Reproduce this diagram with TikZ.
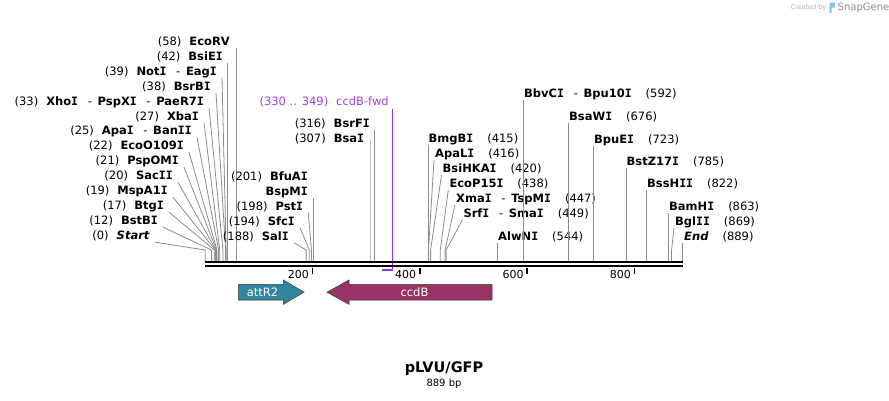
\documentclass[tikz,border=0pt]{standalone}
\usepackage{fontspec}
\setmainfont{DejaVu Sans}
\newfontfamily\monofam{DejaVu Sans Mono}
\usetikzlibrary{calc}
\definecolor{cutgray}{HTML}{8C8C8C}
\definecolor{cutlight}{HTML}{C0C0C0}
\definecolor{primer}{HTML}{9B30F0}
\definecolor{primertxt}{HTML}{A040E8}
\definecolor{attcol}{HTML}{31869E}
\definecolor{ccdcol}{HTML}{993366}
\definecolor{logoblue}{HTML}{7CC4E8}
\newcommand\mksite[2]{\coordinate (#1) at ({205.2+0.5367*#2},250);\coordinate (#1b) at ({205.2+0.5367*#2},260.8);}
\newcommand\nm[1]{\textbf{#1}}
\newcommand\vI{{\monofam\bfseries I}}
\newcommand\gapL{\hspace{8pt}}
\newcommand\gapR{\hspace{14pt}}
\newcommand\dsh{\hspace{9.7pt}-\hspace{5.7pt}}
\begin{document}
\begin{tikzpicture}[x=1pt,y=-1pt,
  lbl/.style={font=\fontsize{11.5}{13}\selectfont, inner sep=0pt, text height=8.5pt, text depth=2.5pt},
  lblL/.style={lbl, anchor=east},
  lblR/.style={lbl, anchor=west},
  cut/.style={draw=cutgray, line width=0.8pt},
  cutl/.style={draw=cutlight, line width=0.9pt},
  barline/.style={draw=black, line width=2.6pt},
  tick/.style={draw=black, line width=1.6pt},
  ticklbl/.style={font=\fontsize{11}{12}\selectfont, inner sep=0pt, anchor=east},
  feat/.style={draw=black!75, line width=0.6pt},
  ftxt/.style={font=\fontsize{11.5}{13}\selectfont, text=white, inner sep=0pt},
]
\useasboundingbox (0,0) rectangle (889,400);

% sites
\mksite{sStart}{0}\mksite{sBstBI}{12}\mksite{sBtgI}{17}\mksite{sMspA}{19}\mksite{sSacII}{20}
\mksite{sPspOMI}{21}\mksite{sEcoO}{22}\mksite{sApaI}{25}\mksite{sXbaI}{27}\mksite{sXhoI}{33}
\mksite{sBsrBI}{38}\mksite{sNotI}{39}\mksite{sBsiEI}{42}\mksite{sEcoRV}{58}
\mksite{sSalI}{188}\mksite{sSfcI}{194}\mksite{sPstI}{198}\mksite{sBfuAI}{201}
\mksite{sBsaI}{307}\mksite{sBsrFI}{316}
\mksite{sBmgBI}{415}\mksite{sApaLI}{416}\mksite{sBsiHKAI}{420}\mksite{sEcoP}{438}
\mksite{sXmaI}{447}\mksite{sSrfI}{449}\mksite{sAlwNI}{544}\mksite{sBbvCI}{592}
\mksite{sBsaWI}{676}\mksite{sBpuEI}{723}\mksite{sBstZ}{785}\mksite{sBssHII}{822}
\mksite{sBamHI}{863}\mksite{sBglII}{869}\mksite{sEnd}{889}

% left group
\node[lblL] (lEcoRV) at (230,42) {(58)\gapL\nm{EcoRV}};
\node[lblL] (lBsiEI) at (223,57) {(42)\gapL\nm{BsiE\vI}};
\node[lblL] (lNotI) at (217,72) {(39)\gapL\nm{Not\vI}\dsh\nm{Eag\vI}};
\node[lblL] (lBsrBI) at (211,87) {(38)\gapL\nm{BsrB\vI}};
\node[lblL] (lXhoI) at (204,102) {(33)\gapL\nm{Xho\vI}\dsh\nm{PspX\vI}\dsh\nm{PaeR7\vI}};
\node[lblL] (lXbaI) at (199,117) {(27)\gapL\nm{Xba\vI}};
\node[lblL] (lApaI) at (192,131.5) {(25)\gapL\nm{Apa\vI}\dsh\nm{Ban\vI\vI}};
\node[lblL] (lEcoO) at (184,146.5) {(22)\gapL\nm{EcoO109\vI}};
\node[lblL] (lPspOMI) at (179,161.5) {(21)\gapL\nm{PspOM\vI}};
\node[lblL] (lSacII) at (173,176.5) {(20)\gapL\nm{Sac\vI\vI}};
\node[lblL] (lMspA) at (168,191.5) {(19)\gapL\nm{MspA1\vI}};
\node[lblL] (lBtgI) at (164,206.5) {(17)\gapL\nm{Btg\vI}};
\node[lblL] (lBstBI) at (158,221.5) {(12)\gapL\nm{BstB\vI}};
\node[lblL] (lStart) at (150,236.5) {(0)\gapL\textbf{\itshape Start}};

\draw[cut] (sEcoRV |- lEcoRV.south) -- (sEcoRVb);
\draw[cut] (sBsiEI |- lBsiEI.south) -- (sBsiEIb);
\foreach \l/\s in {lNotI/sNotI, lBsrBI/sBsrBI, lXhoI/sXhoI, lXbaI/sXbaI, lApaI/sApaI,
  lEcoO/sEcoO, lPspOMI/sPspOMI, lSacII/sSacII, lMspA/sMspA, lBtgI/sBtgI, lBstBI/sBstBI, lStart/sStart}
  \draw[cut] ([shift={(5,0)}]\l.south east) -- (\s) -- (\s b);

% middle group
\node[lblL] (lBsrFI) at (370,124) {(316)\gapL\nm{BsrF\vI}};
\node[lblL] (lBsaI) at (364.3,139) {(307)\gapL\nm{Bsa\vI}};
\node[lblL] (lBfuAI) at (308,177) {(201)\gapL\nm{BfuA\vI}};
\node[lblL] (lBspMI) at (308,192) {\nm{BspM\vI}};
\node[lblL] (lPstI) at (303.3,207) {(198)\gapL\nm{Pst\vI}};
\node[lblL] (lSfcI) at (295,222) {(194)\gapL\nm{Sfc\vI}};
\node[lblL] (lSalI) at (289,237) {(188)\gapL\nm{Sal\vI}};

\draw[cut] (sBsrFI |- lBsrFI.south) -- (sBsrFIb);
\draw[cutl] (sBsaI |- lBsaI.east) -- (sBsaIb);
\draw[cut] (sBfuAI |- lBspMI.south) -- (sBfuAIb);
\foreach \l/\s in {lPstI/sPstI, lSfcI/sSfcI, lSalI/sSalI}
  \draw[cut] ([shift={(5,0)}]\l.south east) -- (\s) -- (\s b);

% primer
\node[lblL, text=primertxt] (lPrimer) at (389,102) {(330 .. 349)\gapL ccdB-fwd};
\coordinate (pA) at ({205.2+0.5367*330},270);
\coordinate (pB) at ({205.2+0.5367*349},270);
\draw[draw=primer, line width=1.3pt] ([yshift=-1pt]pB |- lPrimer.south) -- (pB) -- (pA);

% right group
\node[lblR] (lBbvCI) at (524,94) {\nm{BbvC\vI}\dsh\nm{Bpu10\vI}\gapR(592)};
\node[lblR] (lBsaWI) at (569,117) {\nm{BsaW\vI}\gapR(676)};
\node[lblR] (lBpuEI) at (594,140) {\nm{BpuE\vI}\gapR(723)};
\node[lblR] (lBstZ) at (626.5,162) {\nm{BstZ17\vI}\gapR(785)};
\node[lblR] (lBssHII) at (647,184.5) {\nm{BssH\vI\vI}\gapR(822)};
\node[lblR] (lBamHI) at (669,207) {\nm{BamH\vI}\gapR(863)};
\node[lblR] (lBglII) at (675,222) {\nm{Bgl\vI\vI}\gapR(869)};
\node[lblR] (lEnd) at (684,237) {\textbf{\itshape End}\gapR(889)};
\node[lblR] (lBmgBI) at (428.5,139.5) {\nm{BmgB\vI}\gapR(415)};
\node[lblR] (lApaLI) at (435,154.5) {\nm{ApaL\vI}\gapR(416)};
\node[lblR] (lBsiHKAI) at (442.5,169.3) {\nm{BsiHKA\vI}\gapR(420)};
\node[lblR] (lEcoP) at (449.3,184) {\nm{EcoP15\vI}\gapR(438)};
\node[lblR] (lXmaI) at (456,199) {\nm{Xma\vI}\dsh\nm{TspM\vI}\gapR(447)};
\node[lblR] (lSrfI) at (463.3,214.3) {\nm{Srf\vI}\dsh\nm{Sma\vI}\gapR(449)};
\node[lblR] (lAlwNI) at (498,237) {\nm{AlwN\vI}\gapR(544)};

\foreach \l/\s in {lBbvCI/sBbvCI, lBsaWI/sBsaWI, lBpuEI/sBpuEI, lBstZ/sBstZ, lBssHII/sBssHII,
  lBamHI/sBamHI, lEnd/sEnd, lAlwNI/sAlwNI, lBmgBI/sBmgBI}
  \draw[cut] (\s |- \l.south) -- (\s b);
\foreach \l/\s in {lApaLI/sApaLI, lBsiHKAI/sBsiHKAI, lEcoP/sEcoP, lXmaI/sXmaI, lSrfI/sSrfI, lBglII/sBglII}
  \draw[cut] ([shift={(-1,0)}]\l.south west) -- (\s) -- (\s b);

% backbone
\draw[barline] (205,262) -- (683.3,262);
\draw[barline] (205,266) -- (683.3,266);
\foreach \t in {200,400,600,800} {
  \coordinate (tk\t) at ({205.2+0.5367*\t},267.5);
  \draw[tick] (tk\t) -- ++(0,6);
  \node[ticklbl] at ([shift={(-3.5,6.5)}]tk\t) {\t};
}

% features
\draw[feat, fill=attcol] (238.3,284.3) -- (283.3,284.3) -- (283.3,280) -- (304,292.2)
  -- (283.3,304.3) -- (283.3,300) -- (238.3,300) -- cycle;
\node[ftxt] (fatt) at (262.5,292.2) {attR2};
\draw[feat, fill=ccdcol] (492,284.3) -- (349,284.3) -- (349,280) -- (327,292.2)
  -- (349,304.3) -- (349,300) -- (492,300) -- cycle;
\node[ftxt] (fccd) at (414.5,292.2) {ccdB};

% title
\node[font=\bfseries\fontsize{14.5}{16}\selectfont, inner sep=0pt] (title) at (444,369) {pLVU/GFP};
\node[font=\fontsize{10}{12}\selectfont, inner sep=0pt] (len) at (444,384) {889 bp};

% logo
\node[anchor=east, text=black!30, font=\fontsize{6.5}{7}\selectfont, inner sep=0pt] (logoA) at (826.5,7.5) {Created by};
\fill[logoblue] (829.5,2.5) rectangle (831.5,13) (831.5,2.5) rectangle (835,7.5);
\node[anchor=west, text=black!45, font=\fontsize{10}{11}\selectfont, inner sep=0pt] (logoB) at (837.5,7.5) {SnapGene};
\end{tikzpicture}
\end{document}
